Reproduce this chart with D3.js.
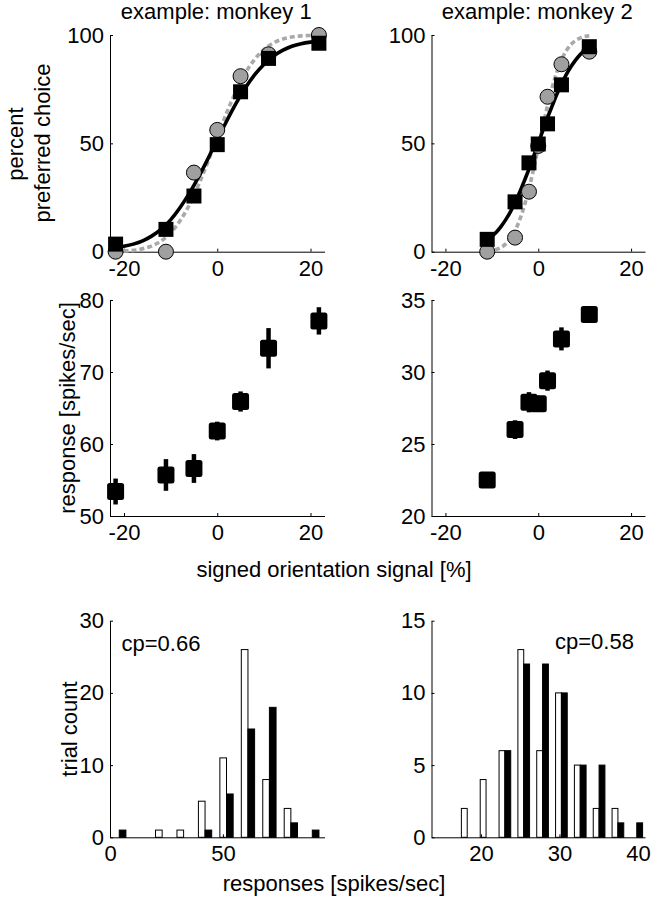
<!DOCTYPE html>
<html><head><meta charset="utf-8">
<script src="https://cdn.jsdelivr.net/npm/d3@7"></script>
<style>
body{margin:0;background:#fff}
svg{display:block}
text{font-family:"Liberation Sans",Arial,Helvetica,sans-serif;fill:#000}
</style>
</head><body>
<svg id="chart" width="652" height="900"></svg>
<script>
// ---------- data ----------
const titles = ["example: monkey 1", "example: monkey 2"];
const signalM1 = [-21.8, -11, -5, 0, 5, 11, 21.8];
const signalM2 = [-11, -5, -2, 0, 2, 5, 11];

// top row: percent preferred choice
const squaresM1 = [3.5, 10.3, 25.7, 49.4, 73.8, 89.2, 96.2];
const circlesM1 = [0, 0, 36.5, 56.2, 81, 91.1, 100];
const squaresM2 = [5.7, 23, 41, 49.7, 59, 77, 94.6];
const circlesM2 = [0, 6.5, 27.7, 48.8, 71.5, 86.5, 92.3];

// fitted curves
const fitXM1 = [-21.8, -20, -18, -16, -14, -12, -10, -8, -6, -4, -2, 0, 2, 4, 6, 8, 10, 12, 14, 16, 18, 20, 21.8];
const fitSolidM1 = [1.9, 2.5, 3.5, 5.0, 7.3, 10.4, 14.7, 20.3, 26.9, 34.5, 42.9, 51.7, 60.2, 68.3, 75.5, 81.6, 86.4, 90.2, 92.9, 94.8, 96.0, 96.7, 97.1];
const fitDashedM1 = [0.1, 0.3, 0.6, 1.4, 2.7, 5.0, 8.7, 14.2, 21.5, 30.9, 41.5, 52.8, 64.0, 73.9, 82.4, 88.7, 93.3, 96.3, 98.1, 99.1, 99.6, 99.8, 99.9];
const fitXM2 = [-11, -10, -9, -8, -7, -6, -5, -4, -3, -2, -1, 0, 1, 2, 3, 4, 5, 6, 7, 8, 9, 10, 11];
const fitSolidM2 = [5.5, 7.1, 9.1, 11.7, 14.8, 18.4, 22.7, 27.4, 32.7, 38.1, 44.0, 50.0, 56.0, 61.9, 67.3, 72.6, 77.3, 81.6, 85.2, 88.3, 90.9, 92.9, 94.6];
const fitDashedM2 = [0.3, 0.5, 1.1, 2.0, 3.6, 6.1, 9.7, 14.7, 21.2, 29.1, 38.2, 48.0, 57.9, 67.4, 75.8, 82.9, 88.5, 92.6, 95.5, 97.4, 98.6, 99.3, 99.6];

// middle row: response [spikes/sec] with error bars
const respM1 = [53.4, 55.7, 56.6, 61.8, 65.9, 73.3, 77.1];
const errM1 = [1.8, 2.2, 2.0, 1.3, 1.4, 2.8, 1.9];
const respM2 = [22.5, 26.0, 27.9, 27.8, 29.4, 32.3, 34.0];
const errM2 = [0.45, 0.65, 0.7, 0.55, 0.7, 0.8, 0.5];

// bottom row: histograms of responses
const binsM1 = [4.1, 13.6, 23.1, 32.6, 42.1, 51.6, 61.1, 70.6, 80.1, 89.6];
const whiteM1 = [0, 0, 1, 1, 5, 11, 26, 8, 4, 0];
const blackM1 = [1, 0, 0, 0, 1, 6, 15, 18, 2, 1];
const binsM2 = [18.25, 20.65, 23.05, 25.45, 27.85, 30.25, 32.65, 35.05, 37.45, 39.85];
const whiteM2 = [2, 4, 6, 13, 6, 10, 5, 2, 2, 0];
const blackM2 = [0, 0, 6, 12, 12, 10, 5, 5, 1, 1];
const cpLabels = ["cp=0.66", "cp=0.58"];

// tick values
const ticksSignal = [-20, 0, 20];
const ticksPct = [0, 50, 100];
const ticksRespM1 = [50, 60, 70, 80];
const ticksRespM2 = [20, 25, 30, 35];
const ticksHistXM1 = [0, 50];
const ticksHistXM2 = [20, 30, 40];
const ticksCountM1 = [0, 10, 20, 30];
const ticksCountM2 = [0, 5, 10, 15];

// ---------- layout ----------
const FS = 22;
const colL = [110, 324.5], colR = [431.5, 645];
const rowTop = [251.7, 35], rowMid = [516, 300], rowBot = [837.3, 620.7];
const svg = d3.select("#chart");

function drawAxes(x, y, xt, yt) {
  const g = svg.append("g");
  g.append("g")
    .attr("transform", `translate(0,${y.range()[0]})`)
    .call(d3.axisBottom(x).tickValues(xt).tickFormat(d => String(d)).tickSizeInner(-3).tickSizeOuter(0))
    .call(a => {
      a.attr("font-family", null).attr("font-size", FS);
      a.selectAll("text").attr("y", 24).attr("dy", null);
      a.selectAll("line,path").attr("stroke", "#000");
    });
  g.append("g")
    .attr("transform", `translate(${x.range()[0]},0)`)
    .call(d3.axisLeft(y).tickValues(yt).tickFormat(d => String(d)).tickSizeInner(-3).tickSizeOuter(0).tickPadding(6))
    .call(a => {
      a.attr("font-family", null).attr("font-size", FS);
      a.selectAll("line,path").attr("stroke", "#000");
    });
  return g;
}

// ----- top row -----
const topPanels = [
  {cols: colL, xs: signalM1, sq: squaresM1, ci: circlesM1, fx: fitXM1, fs: fitSolidM1, fd: fitDashedM1, title: titles[0]},
  {cols: colR, xs: signalM2, sq: squaresM2, ci: circlesM2, fx: fitXM2, fs: fitSolidM2, fd: fitDashedM2, title: titles[1]}
];
topPanels.forEach(p => {
  const x = d3.scaleLinear().domain([-23, 23]).range(p.cols);
  const y = d3.scaleLinear().domain([0, 100]).range(rowTop);
  drawAxes(x, y, ticksSignal, ticksPct);
  const line = d3.line().x(d => x(d[0])).y(d => y(d[1])).curve(d3.curveMonotoneX);
  svg.append("path").datum(d3.zip(p.fx, p.fd)).attr("d", line)
    .attr("fill", "none").attr("stroke", "#a9a9a9").attr("stroke-width", 3.6).attr("stroke-dasharray", "5,3");
  svg.append("path").datum(d3.zip(p.fx, p.fs)).attr("d", line)
    .attr("fill", "none").attr("stroke", "#000").attr("stroke-width", 3.6);
  svg.append("g").selectAll("circle").data(d3.zip(p.xs, p.ci)).join("circle")
    .attr("cx", d => x(d[0])).attr("cy", d => y(d[1])).attr("r", 7.5)
    .attr("fill", "#a0a0a0").attr("stroke", "#000").attr("stroke-width", 1);
  svg.append("g").selectAll("rect").data(d3.zip(p.xs, p.sq)).join("rect")
    .attr("x", d => x(d[0]) - 7.5).attr("y", d => y(d[1]) - 7.5).attr("width", 15).attr("height", 15)
    .attr("fill", "#000");
  svg.append("text").attr("x", (p.cols[0] + p.cols[1]) / 2 - 1).attr("y", 19)
    .attr("text-anchor", "middle").attr("font-size", FS).text(p.title);
});

// ----- middle row -----
const midPanels = [
  {cols: colL, xs: signalM1, r: respM1, e: errM1, dom: [50, 80], ticks: ticksRespM1},
  {cols: colR, xs: signalM2, r: respM2, e: errM2, dom: [20, 35], ticks: ticksRespM2}
];
midPanels.forEach(p => {
  const x = d3.scaleLinear().domain([-23, 23]).range(p.cols);
  const y = d3.scaleLinear().domain(p.dom).range(rowMid);
  drawAxes(x, y, ticksSignal, p.ticks);
  const pts = d3.zip(p.xs, p.r, p.e);
  svg.append("g").selectAll("line").data(pts).join("line")
    .attr("x1", d => x(d[0])).attr("x2", d => x(d[0]))
    .attr("y1", d => y(d[1] - d[2])).attr("y2", d => y(d[1] + d[2]))
    .attr("stroke", "#000").attr("stroke-width", 4.5);
  svg.append("g").selectAll("rect").data(pts).join("rect")
    .attr("x", d => x(d[0]) - 8.5).attr("y", d => y(d[1]) - 8.5).attr("width", 17).attr("height", 17)
    .attr("rx", 2.5).attr("fill", "#000");
});

// ----- bottom row -----
const botPanels = [
  {cols: colL, bins: binsM1, w: whiteM1, b: blackM1, xdom: [0, 95], ydom: [0, 30], xt: ticksHistXM1, yt: ticksCountM1, cp: cpLabels[0], cpx: 121.5, cpy: 651},
  {cols: colR, bins: binsM2, w: whiteM2, b: blackM2, xdom: [13.7, 40.9], ydom: [0, 15], xt: ticksHistXM2, yt: ticksCountM2, cp: cpLabels[1], cpx: 555, cpy: 649}
];
botPanels.forEach(p => {
  const x = d3.scaleLinear().domain(p.xdom).range(p.cols);
  const y = d3.scaleLinear().domain(p.ydom).range(rowBot);
  const bw = (x(p.bins[1]) - x(p.bins[0])) * 0.31;
  const gw = svg.append("g");
  gw.selectAll("rect.w").data(d3.zip(p.bins, p.w).filter(d => d[1] > 0)).join("rect").attr("class", "w")
    .attr("x", d => x(d[0]) - bw).attr("y", d => y(d[1])).attr("width", bw).attr("height", d => y(0) - y(d[1]))
    .attr("fill", "#fff").attr("stroke", "#000").attr("stroke-width", 1);
  gw.selectAll("rect.b").data(d3.zip(p.bins, p.b).filter(d => d[1] > 0)).join("rect").attr("class", "b")
    .attr("x", d => x(d[0])).attr("y", d => y(d[1])).attr("width", bw).attr("height", d => y(0) - y(d[1]))
    .attr("fill", "#000").attr("stroke", "#000").attr("stroke-width", 1);
  drawAxes(x, y, p.xt, p.yt);
  svg.append("text").attr("x", p.cpx).attr("y", p.cpy).attr("font-size", FS).text(p.cp);
});

// ----- axis labels -----
svg.append("text").attr("transform", "translate(23,144) rotate(-90)").attr("text-anchor", "middle").attr("font-size", FS).text("percent");
svg.append("text").attr("transform", "translate(50,143) rotate(-90)").attr("text-anchor", "middle").attr("font-size", FS).text("preferred choice");
svg.append("text").attr("transform", "translate(75,408) rotate(-90)").attr("text-anchor", "middle").attr("font-size", FS).text("response [spikes/sec]");
svg.append("text").attr("transform", "translate(77,729) rotate(-90)").attr("text-anchor", "middle").attr("font-size", FS).text("trial count");
svg.append("text").attr("x", 334).attr("y", 577).attr("text-anchor", "middle").attr("font-size", FS).text("signed orientation signal [%]");
svg.append("text").attr("x", 334).attr("y", 891).attr("text-anchor", "middle").attr("font-size", FS).text("responses [spikes/sec]");
</script>
</body></html>
